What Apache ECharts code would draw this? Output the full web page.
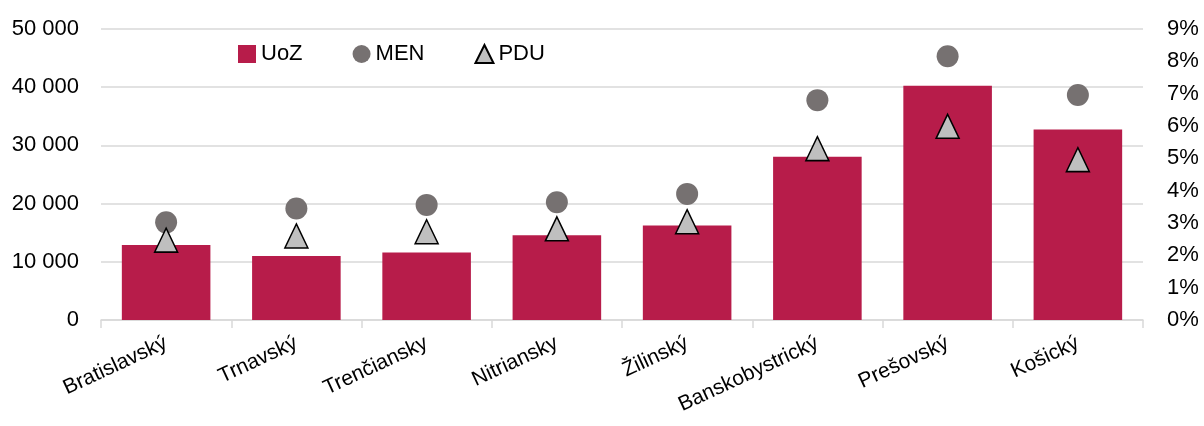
<!DOCTYPE html>
<html>
<head>
<meta charset="utf-8">
<script src="https://cdn.jsdelivr.net/npm/echarts@6/dist/echarts.min.js"></script>
<style>
  html, body { margin: 0; padding: 0; background: #fff; }
  #chart { width: 1204px; height: 426px; }
</style>
</head>
<body>
<div id="chart"></div>
<script>
var regions = ["Bratislavský", "Trnavský", "Trenčiansky", "Nitriansky", "Žilinský", "Banskobystrický", "Prešovský", "Košický"];
var uoz = [12900, 11000, 11600, 14550, 16250, 28050, 40250, 32750];
var men = [3.02, 3.45, 3.56, 3.64, 3.90, 6.80, 8.16, 6.96];
var pdu = [2.47, 2.60, 2.73, 2.82, 3.04, 5.30, 5.99, 4.96];

var font = "Liberation Sans, Arial, sans-serif";
var gridColor = "#d9d9d9";

var chart = echarts.init(document.getElementById("chart"));
chart.setOption({
  animation: false,
  textStyle: { fontFamily: font },
  legend: {
    left: 233,
    top: 38,
    itemGap: 50,
    itemWidth: 18,
    itemHeight: 18,
    textStyle: { fontSize: 22, color: "#000", fontFamily: font },
    data: [
      { name: "UoZ", icon: "rect" },
      { name: "MEN", icon: "circle" },
      { name: "PDU", icon: "triangle" }
    ]
  },
  grid: { left: 101, right: 61, top: 29, bottom: 106 },
  xAxis: {
    type: "category",
    data: regions,
    axisLine: { lineStyle: { color: gridColor, width: 1.5 } },
    axisTick: { show: true, length: 8, lineStyle: { color: gridColor, width: 1.5 } },
    axisLabel: { rotate: 25, margin: 22, fontSize: 21, color: "#000", fontFamily: font }
  },
  yAxis: [
    {
      type: "value",
      min: 0,
      max: 50000,
      interval: 10000,
      axisLine: { show: false },
      axisTick: { show: false },
      splitLine: { lineStyle: { color: gridColor, width: 1.5 } },
      axisLabel: {
        margin: 22,
        fontSize: 22,
        color: "#000",
        fontFamily: font,
        formatter: function (v) {
          return String(v).replace(/\B(?=(\d{3})+(?!\d))/g, " ");
        }
      }
    },
    {
      type: "value",
      min: 0,
      max: 9,
      interval: 1,
      axisLine: { show: false },
      axisTick: { show: false },
      splitLine: { show: false },
      axisLabel: { margin: 24, fontSize: 22, color: "#000", fontFamily: font, formatter: "{value}%" }
    }
  ],
  series: [
    {
      name: "UoZ",
      type: "bar",
      data: uoz,
      barCategoryGap: "32%",
      itemStyle: { color: "#B71C4A" }
    },
    {
      name: "MEN",
      type: "scatter",
      yAxisIndex: 1,
      data: men,
      symbol: "circle",
      symbolSize: 22,
      itemStyle: { color: "#767171", opacity: 1 },
      z: 3
    },
    {
      name: "PDU",
      type: "scatter",
      yAxisIndex: 1,
      data: pdu,
      symbol: "triangle",
      symbolSize: [23, 24],
      itemStyle: { color: "#BFBFBF", borderColor: "#000", borderWidth: 1.5, opacity: 1 },
      z: 4
    }
  ]
});
</script>
</body>
</html>
